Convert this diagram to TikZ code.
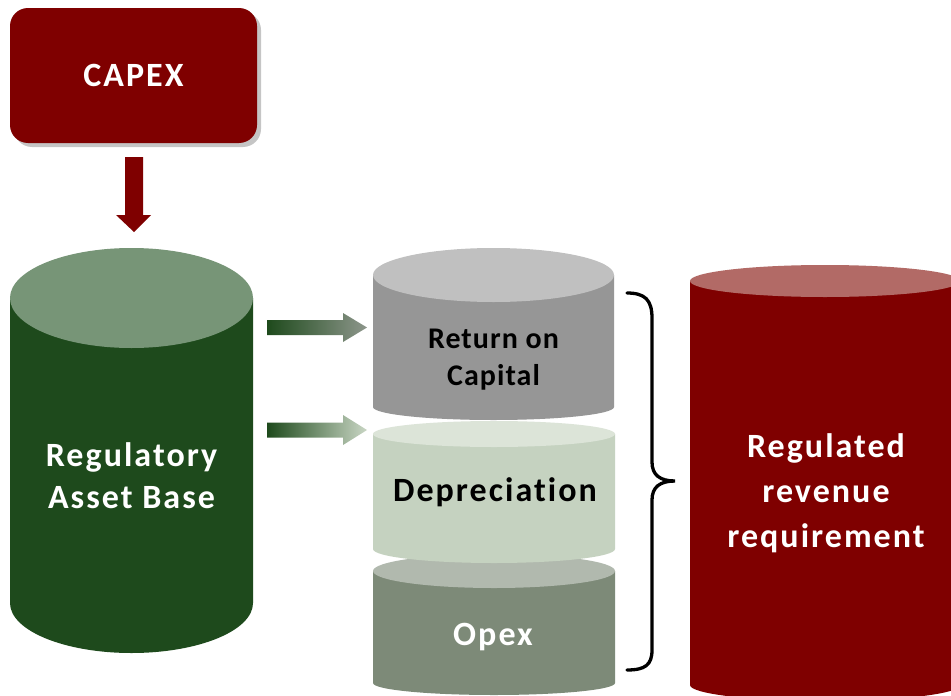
\documentclass[tikz,border=0pt]{standalone}
\usepackage{fontspec}
\setmainfont{Carlito}[Ligatures=CommonOff]
\newfontfamily\spacedA{Carlito}[LetterSpace=6,Ligatures=CommonOff]
\newfontfamily\spacedB{Carlito}[LetterSpace=3.5,Ligatures=CommonOff]
\usetikzlibrary{shadows}
\definecolor{capexred}{HTML}{7F0000}
\definecolor{rabbody}{HTML}{1E4A1C}
\definecolor{rabtop}{HTML}{779577}
\definecolor{rocbody}{HTML}{969696}
\definecolor{roctop}{HTML}{C0C0C0}
\definecolor{depbody}{HTML}{C5D2C0}
\definecolor{deptop}{HTML}{DCE4D8}
\definecolor{opexbody}{HTML}{7D8A78}
\definecolor{opextop}{HTML}{B1B9AE}
\definecolor{revtop}{HTML}{B26A66}
\definecolor{arrowgray}{HTML}{8D968B}
\definecolor{arrowlight}{HTML}{C9D6C4}
\newcommand{\mycyl}[8]{%
  \pgfmathsetmacro\cx{(#1+#2)/2}%
  \pgfmathsetmacro\rx{(#2-#1)/2}%
  \fill[#7] (#1,#3) -- (#1,#5) arc[start angle=180,end angle=0,x radius=\rx,y radius=#6] -- (#2,#3) -- cycle;
  \fill[#8] (\cx,#3) ellipse[x radius=\rx, y radius=#4];
}
\tikzset{
  boldtext/.style 2 args={font=\spacedA\bfseries\fontsize{#1}{#2}\selectfont, align=center, inner sep=0pt},
  bracestyle/.style={draw=black, line width=3.3pt, line cap=round},
}
\begin{document}
\begin{tikzpicture}[x=1pt,y=-1pt]
\path[use as bounding box] (0,0) rectangle (951,696);
\clip (0,0) rectangle (951,696);
\fill[white] (0,0) rectangle (951,696);

% CAPEX box
\node[fill=capexred, rounded corners=18pt, minimum width=247pt, minimum height=135pt,
      drop shadow={shadow xshift=4pt, shadow yshift=-4pt, fill=gray, opacity=0.45},
      text=white, font=\spacedA\bfseries\fontsize{34}{40}\selectfont] (capex) at (133.5,75.5) {CAPEX};

% down arrow
\fill[capexred] (125,157) -- (143,157) -- (143,215) -- (151,215) -- (134,232) -- (116,215) -- (125,215) -- cycle;

% RAB cylinder
\mycyl{10}{253}{298}{50}{603}{50}{rabbody}{rabtop}
\node[boldtext={34}{42}, text=white] (rab) at (131.5,476) {Regulatory\\Asset Base};

% gradient arrows
\shade[left color=rabbody, right color=arrowgray]
  (267,320) -- (343,320) -- (343,313) -- (367,327.5) -- (343,342) -- (343,335) -- (267,335) -- cycle;
\shade[left color=rabbody, right color=arrowlight]
  (267,422.5) -- (343,422.5) -- (343,415) -- (367,430) -- (343,445) -- (343,437.5) -- (267,437.5) -- cycle;

% Opex cylinder
\mycyl{373}{615}{571}{17}{683}{12}{opexbody}{opextop}
% Depreciation cylinder
\mycyl{373}{615}{434}{13}{549}{14}{depbody}{deptop}
% Return on capital cylinder
\mycyl{373}{614}{275}{27}{407}{13}{rocbody}{roctop}

\node[font=\spacedB\bfseries\fontsize{30}{37}\selectfont, align=center, inner sep=0pt, text=black] (roc) at (493.5,360) {Return on\\Capital};
\node[boldtext={34}{40}, text=black] (dep) at (495,492) {Depreciation};
\node[boldtext={34}{40}, text=white] (opex) at (493,637) {Opex};

% brace
\draw[bracestyle] (627,293) .. controls (645,293) and (652,300) .. (652,318) -- (652,462)
  .. controls (652,475) and (660,481) .. (675,481)
  .. controls (660,481) and (652,487) .. (652,500) -- (652,650)
  .. controls (652,665) and (645,670) .. (627,670);

% revenue cylinder
\mycyl{690}{960}{281}{16}{685}{16}{capexred}{revtop}
\node[boldtext={34}{45}, text=white] (rev) at (826,493) {Regulated\\revenue\\requirement};
\end{tikzpicture}
\end{document}
